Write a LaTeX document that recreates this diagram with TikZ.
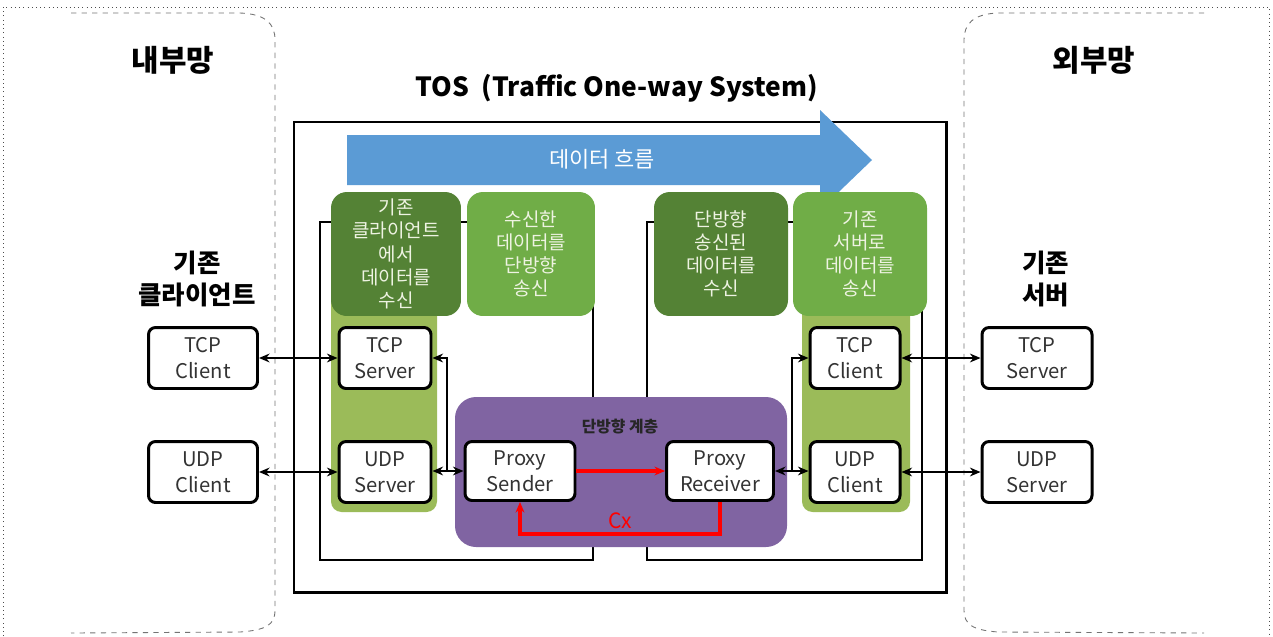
\documentclass[tikz,border=0pt]{standalone}
\usepackage{fontspec}
\newfontfamily\kr{Noto Sans CJK KR}
\usepackage{tikz}
\usetikzlibrary{arrows.meta}
\definecolor{flowblue}{HTML}{5B9BD5}
\definecolor{darkgr}{HTML}{548235}
\definecolor{lightgr}{HTML}{70AD47}
\definecolor{bandgr}{HTML}{9BBB59}
\definecolor{oneway}{HTML}{8064A2}
\definecolor{paletext}{HTML}{EEF3E2}

\begin{document}
\begin{tikzpicture}[x=0.02cm,y=-0.02cm,
		every node/.style={font=\kr},
		proto/.style={draw,fill=white,line width=1.7pt,rounded corners=4pt,minimum height=1.22cm,align=center,inner sep=0pt,text=black!80,font=\kr\fontsize{11.5}{15}\selectfont},
		task/.style={rounded corners=9pt,minimum height=2.48cm,align=center,inner sep=0pt,text=paletext,font=\kr\fontsize{10.8}{13.2}\selectfont},
		link/.style={{Stealth[length=6pt,width=5pt]}-{Stealth[length=6pt,width=5pt]},line width=1.3pt},
		feed/.style={-{Stealth[length=6pt,width=5pt]},line width=1.3pt},
		cxline/.style={red,line width=1.8pt,-{Stealth[length=6pt,width=5pt]}}]
	\useasboundingbox (0,0) rectangle (1273,636);
	\draw[dotted,black!70] (3,636)--(3,7)--(1269,7)--(1269,636);
	\draw[dashed,black!55,line width=0.5pt] (71,13)--(240,13) .. controls (266,14) and (275,24) .. (275,40)--(275,610) .. controls (275,625) and (266,630) .. (240,632)--(71,633);
	\draw[dashed,black!55,line width=0.5pt] (1204,13)--(998,13) .. controls (973,14) and (964,24) .. (964,40)--(964,610) .. controls (964,625) and (973,630) .. (998,632)--(1204,633);
	\node[font=\kr\bfseries\fontsize{17}{20}\selectfont] (inner) at (173,60) {내부망};
	\node[font=\kr\bfseries\fontsize{17}{20}\selectfont] (outer) at (1094,60) {외부망};
	\node[font=\kr\bfseries\fontsize{14.5}{18}\selectfont,align=center] (oldcl) at (197,279) {기존\\클라이언트};
	\node[font=\kr\bfseries\fontsize{14.5}{18}\selectfont,align=left,anchor=west] (oldsv) at (1016,279) {기존\\서버};
	\node[font=\kr\bfseries\fontsize{15}{18}\selectfont] (tos) at (617,88) {TOS~~(Traffic One-way System)};
	\draw[line width=1.7pt] (294,122) rectangle (946,592);
	\draw[line width=1.2pt] (320,222) rectangle (593,560);
	\draw[line width=1.2pt] (647,222) rectangle (922,560);
	\fill[flowblue] (347,135)--(820,135)--(820,110)--(872,160)--(820,210)--(820,185)--(347,185)--cycle;
	\node[text=white,font=\kr\fontsize{12.5}{15}\selectfont] (flow) at (602,159) {데이터 흐름};
	\fill[bandgr,rounded corners=6pt] (331,290) rectangle (437,512);
	\fill[bandgr,rounded corners=6pt] (802,290) rectangle (910,512);
	\node[task,fill=darkgr,minimum width=2.6cm] (recvcl) at (396,254) {기존\\클라이언트\\에서\\데이터를\\수신};
	\node[task,fill=lightgr,minimum width=2.56cm] (sendow) at (531,254) {수신한\\데이터를\\단방향\\송신};
	\node[task,fill=darkgr,minimum width=2.68cm] (recvow) at (721,254) {단방향\\송신된\\데이터를\\수신};
	\node[task,fill=lightgr,minimum width=2.68cm] (sendsv) at (860,254) {기존\\서버로\\데이터를\\송신};
	\fill[oneway,rounded corners=12pt] (455,397) rectangle (787,547);
	\node[text=black!85,font=\kr\bfseries\fontsize{9}{11}\selectfont] (layer) at (620,427) {단방향 계층};
	\node[proto,minimum width=2.18cm] (tcpcl) at (203,358) {TCP\\Client};
	\node[proto,minimum width=2.18cm] (udpcl) at (203,472) {UDP\\Client};
	\node[proto,minimum width=1.84cm] (tcpsv) at (385,358) {TCP\\Server};
	\node[proto,minimum width=1.84cm] (udpsv) at (385,472) {UDP\\Server};
	\node[proto,minimum width=2.2cm,minimum height=1.18cm] (psend) at (520,471) {Proxy\\Sender};
	\node[proto,minimum width=2.14cm,minimum height=1.18cm] (precv) at (720,471) {Proxy\\Receiver};
	\node[proto,minimum width=1.8cm] (tcpcl2) at (855,358) {TCP\\Client};
	\node[proto,minimum width=1.8cm] (udpcl2) at (855,472) {UDP\\Client};
	\node[proto,minimum width=2.2cm] (tcpsv2) at (1037,358) {TCP\\Server};
	\node[proto,minimum width=2.2cm] (udpsv2) at (1037,472) {UDP\\Server};
	\coordinate (lj) at (447,471);
	\coordinate (rj) at (792,471);
	\draw[link] (tcpcl) -- (tcpsv);
	\draw[link] (udpcl) -- (udpsv);
	\draw[link] (udpsv.east |- lj) -- (psend.west);
	\draw[feed] (lj) |- (tcpsv.east);
	\draw[link] (precv.east) -- (udpcl2.west |- rj);
	\draw[feed] (rj) |- (tcpcl2.west);
	\draw[link] (tcpcl2) -- (tcpsv2);
	\draw[link] (udpcl2) -- (udpsv2);
	\draw[cxline] (psend.east) -- (precv.west);
	\draw[cxline] (precv.south) -- ++(0,32) -| (psend.south) node[pos=0.25,above=-1pt,text=red,font=\kr\fontsize{12}{14}\selectfont] {Cx};
\end{tikzpicture}
\end{document}
